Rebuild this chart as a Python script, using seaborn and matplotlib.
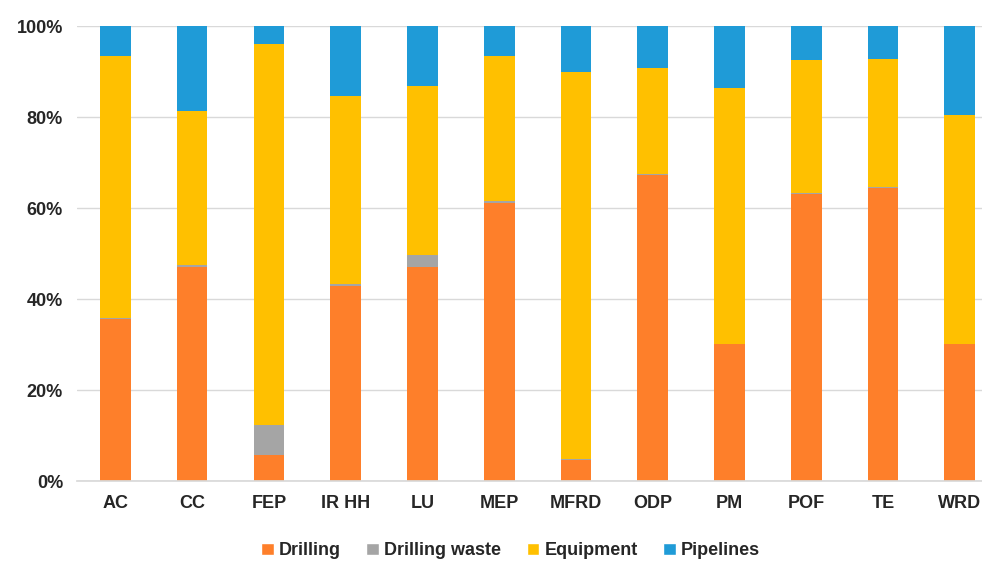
# plot.py
# Stacked share of emissions per site, by source (100% stacked bars).

import numpy as np
import pandas as pd
import matplotlib
matplotlib.use("Agg")
import matplotlib.pyplot as plt
from matplotlib.patches import Patch
from matplotlib.ticker import PercentFormatter
import seaborn as sns

# ── Data ──────────────────────────────────────────────────────────────────────
sites = ["AC", "CC", "FEP", "IR HH", "LU", "MEP", "MFRD", "ODP", "PM", "POF", "TE", "WRD"]
drilling = [35.5, 47.1, 5.7, 42.9, 47.1, 61.2, 4.6, 67.2, 30.1, 63.1, 64.4, 30.1]
drilling_waste = [0.3, 0.3, 6.6, 0.4, 2.6, 0.3, 0.2, 0.3, 0.1, 0.3, 0.3, 0.1]
equipment = [57.6, 34.0, 83.8, 41.4, 37.2, 31.9, 85.2, 23.3, 56.1, 29.2, 28.0, 50.2]
pipelines = [6.6, 18.6, 3.9, 15.3, 13.1, 6.6, 10.0, 9.2, 13.7, 7.4, 7.3, 19.6]

series = ["Drilling", "Drilling waste", "Equipment", "Pipelines"]
colors = ["#FE7F2A", "#A5A5A5", "#FFC000", "#1F9BD7"]

df = pd.DataFrame({
    "site": sites,
    "Drilling": drilling,
    "Drilling waste": drilling_waste,
    "Equipment": equipment,
    "Pipelines": pipelines,
})

# cumulative tops, drawn from the tallest layer down so they stack visually
cum = df[series].cumsum(axis=1)

# ── Plot ──────────────────────────────────────────────────────────────────────
sns.set_theme(style="white")
plt.rcParams["font.family"] = ["Liberation Sans Narrow", "Liberation Sans", "DejaVu Sans"]

fig = plt.figure(figsize=(9.82, 5.61), dpi=100)
ax = fig.add_axes([0.0784, 0.1426, 0.938, 0.811])

for name, color in reversed(list(zip(series, colors))):
    sns.barplot(x=df["site"], y=cum[name], color=color, width=0.4,
                linewidth=0, saturation=1, ax=ax, zorder=2)

ax.set_ylim(0, 100)
ax.set_xlim(-0.5, len(sites) - 0.5)
ax.set_yticks(np.arange(0, 101, 20))
ax.yaxis.set_major_formatter(PercentFormatter(decimals=0))
ax.set_xlabel("")
ax.set_ylabel("")

ax.grid(axis="y", color="#D9D9D9", linewidth=1, zorder=0)
ax.set_axisbelow(True)
for side in ["top", "right", "left"]:
    ax.spines[side].set_visible(False)
ax.spines["bottom"].set_color("#D9D9D9")
ax.tick_params(axis="both", length=0, labelsize=13, pad=10)
for lbl in ax.get_xticklabels() + ax.get_yticklabels():
    lbl.set_fontweight("bold")

handles = [Patch(facecolor=c, label=s) for s, c in zip(series, colors)]
fig.legend(handles=handles, loc="center", bbox_to_anchor=(0.52, 0.018), ncol=4,
           frameon=False, handlelength=0.7, handleheight=0.7, handletextpad=0.3,
           columnspacing=1.4, prop={"size": 13, "weight": "bold"})

fig.savefig("out.png", dpi=100)
